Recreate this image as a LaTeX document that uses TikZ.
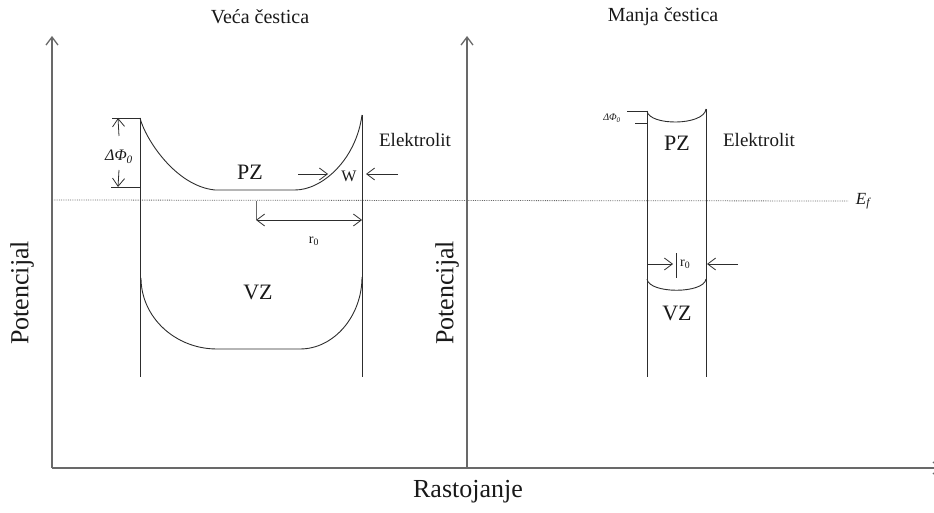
\documentclass[tikz,border=0pt]{standalone}
\usepackage{fontspec}
\setmainfont{Liberation Serif}
\usetikzlibrary{arrows.meta}
\definecolor{axisGray}{RGB}{105,105,105}
\definecolor{lineDark}{RGB}{45,45,45}
\definecolor{textDark}{RGB}{25,25,25}

\tikzset{
  axis/.style={draw=axisGray, line width=1.3pt},
  wall/.style={draw=lineDark, line width=0.9pt},
  band/.style={draw=lineDark, line width=0.9pt},
  dim/.style={draw=lineDark, line width=0.8pt},
  fermi/.style={draw=axisGray, densely dotted, line width=0.8pt},
  tick/.style={draw=axisGray, line width=0.8pt},
}

\begin{document}
\begin{tikzpicture}[x=1pt, y=-1pt, >={Straight Barb[length=8pt,width=12pt]},
  every node/.style={text=textDark, inner sep=0pt}]
\useasboundingbox (0,0) rectangle (934,513);

% Axes
\coordinate (origin) at (52,468);
\coordinate (yTop) at (52,36);
\coordinate (xEnd) at (942,468);
\coordinate (midBase) at (467,468);
\coordinate (midTop) at (467,36);
\draw[axis,->] (origin) -- (yTop);
\draw[axis,->] (origin) -- (xEnd);
\draw[axis,->] (midBase) -- (midTop);

\node[font=\fontsize{20}{24}\selectfont] (bigTitle) at (260,17) {Veća čestica};
\node[font=\fontsize{20}{24}\selectfont] (smallTitle) at (663,17) {Manja čestica};
\node[font=\fontsize{26}{30}\selectfont, rotate=90] (yLabelL) at (22,293) {Potencijal};
\node[font=\fontsize{26}{30}\selectfont, rotate=90] (yLabelR) at (447,293) {Potencijal};
\node[font=\fontsize{26}{30}\selectfont] (xLabel) at (468,492) {Rastojanje};

% Fermi level
\node[font=\itshape\fontsize{17}{20}\selectfont] (ef) at (863,201) {E\textsubscript{f}};
\coordinate (efStart) at (52,200);
\draw[fermi] (efStart) -- (ef.west -| 848,0);

% Larger particle
\coordinate (bigL) at (140,118);
\coordinate (bigR) at (362,115);
\draw[wall] (bigL) -- (140,377);
\draw[wall] (bigR) -- (362,377);
\draw[band] (bigL) .. controls (145,138) and (175,186) .. (215,190)
  -- (295,190) .. controls (322,190) and (356,160) .. (bigR);
\draw[band] (141,278) .. controls (141,317) and (175,349) .. (217,349)
  -- (300,349) .. controls (334,349) and (362,316) .. (362,277);
\node[font=\fontsize{22}{26}\selectfont] (pzBig) at (250,172) {PZ};
\node[font=\fontsize{22}{26}\selectfont] (vzBig) at (258,292) {VZ};
\node[font=\fontsize{19}{22}\selectfont] (elBig) at (415,140) {Elektrolit};

% work-function step of the larger particle
\coordinate (dTop) at (118,118);
\coordinate (dBot) at (118,187);
\draw[dim] (112,118) -- (bigL);
\draw[dim] (111,187) -- (140,187);
\node[font=\itshape\fontsize{16}{19}\selectfont] (dPhiBig) at (119,157) {ΔΦ\textsubscript{0}};
\draw[dim,->] (dPhiBig.north |- 0,136) -- (dTop);
\draw[dim,->] (dPhiBig.south |- 0,170) -- (dBot);

% depletion width
\node[font=\fontsize{16}{19}\selectfont] (wBig) at (349,176) {W};
\coordinate (wIn) at (328,174);
\coordinate (wOut) at (366,174);
\draw[dim,->] (298,174) -- (wIn);
\draw[dim,->] (398,174) -- (wOut);

% radius of the larger particle
\coordinate (rBigA) at (256,220);
\coordinate (rBigB) at (362,220);
\draw[tick] (256,201) -- (rBigA);
\draw[dim,<->] (rBigA) -- (rBigB);
\node[font=\fontsize{14}{17}\selectfont] (rBig) at (314,241) {r\textsubscript{0}};

% Smaller particle
\coordinate (smL) at (647,111);
\coordinate (smR) at (706,109);
\draw[wall] (smL) -- (647,377);
\draw[wall] (smR) -- (706,377);
\draw[band] (smL) .. controls (649,126) and (704,126) .. (smR);
\draw[band] (647,279) .. controls (649,294) and (704,294) .. (706,279);
\node[font=\fontsize{22}{26}\selectfont] (pzSmall) at (677,143) {PZ};
\node[font=\fontsize{22}{26}\selectfont] (vzSmall) at (677,313) {VZ};
\node[font=\fontsize{19}{22}\selectfont] (elSmall) at (759,140) {Elektrolit};

\draw[dim] (627,111) -- (smL);
\draw[dim] (635,123) -- (647,123);
\node[font=\itshape\fontsize{10}{12}\selectfont] (dPhiSmall) at (612,118) {ΔΦ\textsubscript{0}};

% radius of the smaller particle
\coordinate (rSmA) at (673,264);
\coordinate (rSmB) at (707,264);
\draw[dim,->] (647,264) -- (rSmA);
\draw[dim,->] (738,264) -- (rSmB);
\draw[dim] (676,253) -- (676,278);
\node[font=\fontsize{14}{17}\selectfont, anchor=west] (rSmall) at (680,264) {r\textsubscript{0}};

\end{tikzpicture}
\end{document}
